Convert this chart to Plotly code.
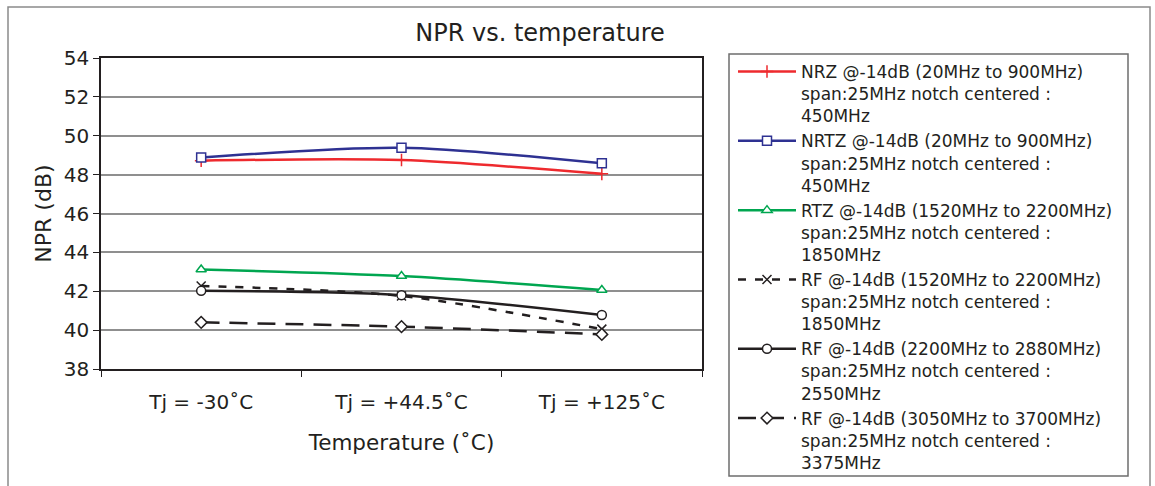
import plotly.graph_objects as go

categories = ["Tj = -30˚C", "Tj = +44.5˚C", "Tj = +125˚C"]
nrz = [48.72, 48.75, 48.04]
nrtz = [48.88, 49.38, 48.58]
rtz = [43.12, 42.78, 42.06]
rf_1850 = [42.27, 41.76, 40.05]
rf_2550 = [42.02, 41.80, 40.78]
rf_3375 = [40.40, 40.18, 39.78]

names = [
    "NRZ @-14dB (20MHz to 900MHz)<br>span:25MHz notch centered :<br>450MHz",
    "NRTZ @-14dB (20MHz to 900MHz)<br>span:25MHz notch centered :<br>450MHz",
    "RTZ @-14dB (1520MHz to 2200MHz)<br>span:25MHz notch centered :<br>1850MHz",
    "RF @-14dB (1520MHz to 2200MHz)<br>span:25MHz notch centered :<br>1850MHz",
    "RF @-14dB (2200MHz to 2880MHz)<br>span:25MHz notch centered :<br>2550MHz",
    "RF @-14dB (3050MHz to 3700MHz)<br>span:25MHz notch centered :<br>3375MHz",
]
series = [nrz, nrtz, rtz, rf_1850, rf_2550, rf_3375]
colors = ["#ee2a2e", "#2e3192", "#00a650", "#231f20", "#231f20", "#231f20"]
symbols = ["cross-thin", "square", "triangle-up", "x-thin", "circle", "diamond"]
dashes = ["solid", "solid", "solid", "8px,9px", "solid", "18px,10px"]

FONT = "DejaVu Sans, Verdana, sans-serif"

fig = go.Figure()
for i, (nm, ys) in enumerate(zip(names, series)):
    fig.add_trace(go.Scatter(
        x=categories, y=ys, name=nm, mode="lines+markers",
        line=dict(color=colors[i], width=2.5, dash=dashes[i], shape="spline", smoothing=0.8),
        marker=dict(symbol=symbols[i], size=9, color="white",
                    line=dict(color=colors[i], width=1.5)),
        legendgroup=str(i),
    ))

L, T, PW, PH = 101, 58, 601, 311
fig.update_layout(
    width=1155, height=486,
    margin=dict(l=L, r=1155 - L - PW, t=T, b=486 - T - PH),
    paper_bgcolor="white", plot_bgcolor="white",
    font=dict(family=FONT, color="#231f20"),
    title=dict(text="NPR vs. temperature", x=540 / 1155, xanchor="center",
               y=1 - 33 / 486, yanchor="middle",
               font=dict(size=24, color="#231f20")),
    showlegend=True,
    legend=dict(xref="container", yref="container", x=733 / 1155, y=1 - 54 / 486,
                xanchor="left", yanchor="top",
                font=dict(size=17, color="#231f20"), bgcolor="rgba(0,0,0,0)", borderwidth=0,
                tracegroupgap=0, traceorder="grouped", valign="top", itemwidth=58, maxheight=470),
    xaxis=dict(type="category", range=[-0.5, 2.5], showline=True, linecolor="#231f20", linewidth=1.5,
               mirror=True, ticks="outside", tickson="boundaries", ticklen=6, tickcolor="#231f20",
               showgrid=False, tickfont=dict(size=20), ticklabelstandoff=14,
               title=dict(text="Temperature (˚C)", font=dict(size=21.5), standoff=22)),
    yaxis=dict(range=[38, 54], dtick=2, showline=True, linecolor="#231f20", linewidth=1.5, mirror=True,
               ticks="outside", ticklen=6, tickcolor="#231f20", gridcolor="#8f8f8f", gridwidth=1.5,
               tickfont=dict(size=20), zeroline=False,
               title=dict(text="NPR (dB)", font=dict(size=22), standoff=6)),
)

# outer frame and legend box (paper coords relative to plot area)
fig.add_shape(type="rect", xref="paper", yref="paper",
              x0=(8 - L) / PW, x1=(1150 - L) / PW, y0=(369 - 495) / PH, y1=(369 - 7) / PH,
              line=dict(color="#8a8a8a", width=1.5), layer="below")
fig.add_shape(type="rect", xref="paper", yref="paper",
              x0=(729 - L) / PW, x1=(1128 - L) / PW, y0=(369 - 476) / PH, y1=(369 - 54) / PH,
              line=dict(color="#6e6e6e", width=1.5), layer="below")

fig.write_html("out.html", config={"displayModeBar": False},
               post_script="document.body.style.margin='0';document.body.style.overflow='hidden';")
